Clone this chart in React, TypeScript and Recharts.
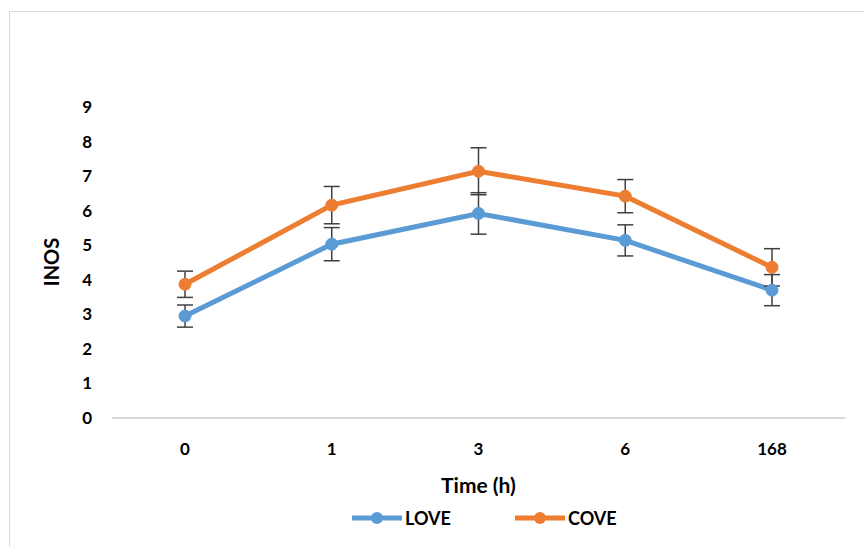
import React from 'react';
import { LineChart, Line, XAxis, YAxis, ErrorBar } from 'recharts';

const TIMES = ['0', '1', '3', '6', '168'];
const LOVE = [2.95, 5.03, 5.92, 5.14, 3.7];
const LOVE_ERR = [0.32, 0.48, 0.6, 0.45, 0.45];
const COVE = [3.87, 6.16, 7.14, 6.42, 4.36];
const COVE_ERR = [0.38, 0.54, 0.68, 0.48, 0.54];
const Y_TICKS = [0, 1, 2, 3, 4, 5, 6, 7, 8, 9];

const SERIES = [
  { key: 'love', name: 'LOVE', color: '#5B9BD5' },
  { key: 'cove', name: 'COVE', color: '#ED7D31' },
];

const data = TIMES.map((t, i) => ({
  time: t,
  love: LOVE[i],
  loveErr: LOVE_ERR[i],
  cove: COVE[i],
  coveErr: COVE_ERR[i],
}));

const FONT = 'Lato, "Open Sans", sans-serif';
const tickStyle = { fill: '#000', fontSize: 17, fontWeight: 700, fontFamily: FONT };

const LegendRow = () => (
  <div style={{ position: 'absolute', left: 0, top: 506, width: 864, height: 24 }}>
    {SERIES.map((s, i) => (
      <div
        key={s.key}
        style={{ position: 'absolute', left: i === 0 ? 352 : 515, top: 0, display: 'flex', alignItems: 'center', height: 24 }}
      >
        <svg width={50} height={14}>
          <line x1={0} y1={7} x2={50} y2={7} stroke={s.color} strokeWidth={5} />
          <circle cx={25} cy={7} r={6} fill={s.color} />
        </svg>
        <span style={{ marginLeft: 3, fontFamily: FONT, fontWeight: 700, fontSize: 18 }}>{s.name}</span>
      </div>
    ))}
  </div>
);

export default function App() {
  return (
    <div style={{ position: 'absolute', left: 0, top: 0, width: 864, height: 547, background: '#fff', overflow: 'hidden' }}>
      <div style={{ position: 'absolute', left: 9, top: 11, width: 880, height: 560, border: '1.5px solid #d9d9d9' }} />
      <LineChart width={864} height={547} data={data} margin={{ top: 107, right: 19, left: 0, bottom: 0 }}>
        <XAxis
          dataKey="time"
          height={129}
          padding={{ left: 73, right: 73 }}
          axisLine={{ stroke: '#d9d9d9', strokeWidth: 2 }}
          tickLine={false}
          tickSize={0}
          tickMargin={25}
          tick={tickStyle}
          label={{
            content: ({ viewBox }: any) => (
              <text x={viewBox.x + viewBox.width / 2} y={493} textAnchor="middle" style={{ fontFamily: FONT, fontWeight: 700, fontSize: 21 }}>
                Time (h)
              </text>
            ),
          }}
        />
        <YAxis
          width={112}
          domain={[0, 9]}
          ticks={Y_TICKS}
          interval={0}
          axisLine={false}
          tickLine={false}
          tickSize={0}
          tickMargin={20}
          tick={tickStyle}
          label={{
            content: () => (
              <text x={51} y={262} transform="rotate(-90 51 262)" textAnchor="middle" dominantBaseline="central" style={{ fontFamily: FONT, fontWeight: 700, fontSize: 20 }}>
                INOS
              </text>
            ),
          }}
        />
        {SERIES.map((s) => (
          <Line
            key={s.key}
            dataKey={s.key}
            name={s.name}
            stroke={s.color}
            strokeWidth={5}
            dot={{ r: 6, fill: s.color, stroke: s.color, strokeWidth: 1 }}
            activeDot={false}
            isAnimationActive={false}
          >
            <ErrorBar dataKey={`${s.key}Err`} direction="y" width={8} stroke="#404040" strokeWidth={1.5} />
          </Line>
        ))}
      </LineChart>
      <LegendRow />
    </div>
  );
}
